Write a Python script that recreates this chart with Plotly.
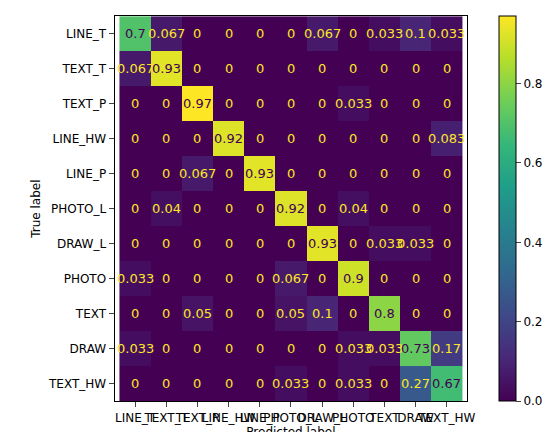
import plotly.graph_objects as go

labels = ["LINE_T", "TEXT_T", "TEXT_P", "LINE_HW", "LINE_P", "PHOTO_L",
          "DRAW_L", "PHOTO", "TEXT", "DRAW", "TEXT_HW"]

# rows = true label, columns = predicted label
cm = [
    [0.7, 0.067, 0, 0, 0, 0, 0.067, 0, 0.033, 0.1, 0.033],
    [0.067, 0.93, 0, 0, 0, 0, 0, 0, 0, 0, 0],
    [0, 0, 0.97, 0, 0, 0, 0, 0.033, 0, 0, 0],
    [0, 0, 0, 0.92, 0, 0, 0, 0, 0, 0, 0.083],
    [0, 0, 0.067, 0, 0.93, 0, 0, 0, 0, 0, 0],
    [0, 0.04, 0, 0, 0, 0.92, 0, 0.04, 0, 0, 0],
    [0, 0, 0, 0, 0, 0, 0.93, 0, 0.033, 0.033, 0],
    [0.033, 0, 0, 0, 0, 0.067, 0, 0.9, 0, 0, 0],
    [0, 0, 0.05, 0, 0, 0.05, 0.1, 0, 0.8, 0, 0],
    [0.033, 0, 0, 0, 0, 0, 0, 0.033, 0.033, 0.73, 0.17],
    [0, 0, 0, 0, 0, 0.033, 0, 0.033, 0, 0.27, 0.67],
]

vmax = max(max(r) for r in cm)
thresh = vmax / 2

fig = go.Figure(go.Heatmap(
    z=cm, x=labels, y=labels, colorscale="Viridis", zmin=0, zmax=vmax,
    colorbar=dict(x=0.889, xanchor="left", xpad=0, ypad=0, thickness=17,
                  len=0.891, y=0.09, yanchor="bottom",
                  tickvals=[0, 0.2, 0.4, 0.6, 0.8],
                  ticktext=["0.0", "0.2", "0.4", "0.6", "0.8"],
                  ticks="outside", outlinewidth=1, outlinecolor="black",
                  tickfont=dict(size=12)),
    hoverinfo="skip",
))

annotations = []
for i, row in enumerate(cm):
    for j, v in enumerate(row):
        annotations.append(dict(
            x=labels[j], y=labels[i], text=format(v, ".2g"), showarrow=False,
            font=dict(size=13, color="#440154" if v > thresh else "#fde725")))

fig.update_layout(
    width=560, height=432, margin=dict(l=0, r=0, t=0, b=0),
    paper_bgcolor="white", plot_bgcolor="white",
    font=dict(family="DejaVu Sans", color="black", size=12),
    annotations=annotations,
    xaxis=dict(domain=[0.193, 0.832],
               title=dict(text="Predicted label", standoff=0, font=dict(size=12)),
               ticks="outside", showline=True, mirror=True, linecolor="black",
               tickangle=0, showgrid=False),
    yaxis=dict(domain=[0.09, 0.981], autorange="reversed",
               title=dict(text="True label", standoff=4, font=dict(size=12)),
               ticks="outside", showline=True, mirror=True, linecolor="black",
               showgrid=False),
)

fig.write_html("out.html")
